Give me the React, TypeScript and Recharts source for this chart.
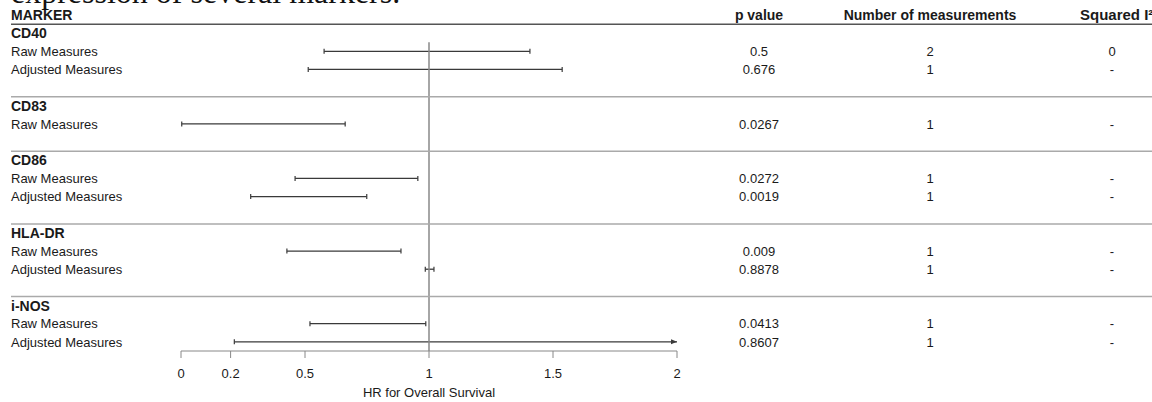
import React from 'react';
import { ComposedChart, Bar, XAxis, YAxis, ReferenceLine } from 'recharts';

const markers = ['CD40', 'CD83', 'CD86', 'HLA-DR', 'i-NOS'];

// one entry per measurement row
const measureMarker = ['CD40', 'CD40', 'CD83', 'CD86', 'CD86', 'HLA-DR', 'HLA-DR', 'i-NOS', 'i-NOS'];
const measureKind = [
  'Raw Measures', 'Adjusted Measures', 'Raw Measures', 'Raw Measures', 'Adjusted Measures',
  'Raw Measures', 'Adjusted Measures', 'Raw Measures', 'Adjusted Measures',
];
const ciLow = [0.577, 0.513, 0.003, 0.46, 0.281, 0.427, 0.985, 0.52, 0.215];
const ciHigh = [1.407, 1.537, 0.662, 0.955, 0.749, 0.887, 1.02, 0.987, 2];
const ciCut = [false, false, false, false, false, false, false, false, true]; // upper limit runs off the axis
const pValues = ['0.5', '0.676', '0.0267', '0.0272', '0.0019', '0.009', '0.8878', '0.0413', '0.8607'];
const nMeasures = ['2', '1', '1', '1', '1', '1', '1', '1', '1'];
const squaredI = ['0', '-', '-', '-', '-', '-', '-', '-', '-'];

const columnHeaders = ['MARKER', 'p value', 'Number of measurements', 'Squared I²'];
const xTicks = [0, 0.2, 0.5, 1, 1.5, 2];
const xTitle = 'HR for Overall Survival';
const caption = 'expression of several markers.';

type Row = {
  id: string;
  label: string;
  kind: 'head' | 'marker' | 'measure' | 'gap';
  first?: boolean;
  ci?: [number, number];
  cut?: boolean;
  p?: string;
  n?: string;
  i2?: string;
};

const rows: Row[] = [{ id: 'head', label: columnHeaders[0], kind: 'head' }];
markers.forEach((m, mi) => {
  rows.push({ id: m, label: m, kind: 'marker', first: mi === 0 });
  measureMarker.forEach((mm, i) => {
    if (mm !== m) return;
    rows.push({
      id: `${m}-${i}`,
      label: measureKind[i],
      kind: 'measure',
      ci: [ciLow[i], ciHigh[i]],
      cut: ciCut[i],
      p: pValues[i],
      n: nMeasures[i],
      i2: squaredI[i],
    });
  });
  if (mi < markers.length - 1) rows.push({ id: `gap-${mi}`, label: '', kind: 'gap' });
});
const rowById: Record<string, Row> = {};
rows.forEach((r) => (rowById[r.id] = r));

const W = 1152;
const H = 402;
const TOP = 6;
const X_AXIS_H = 51;
const ROW = (H - TOP - X_AXIS_H) / rows.length;

const LEFT_X = 11;
const P_X = 759;
const N_X = 930;
const I2_X = 1112;
const FONT = '"Liberation Sans", Arial, Helvetica, sans-serif';

const RowTick = (props: any) => {
  const { y, payload } = props;
  const row = rowById[payload.value];
  if (!row) return null;
  const txt = { fontFamily: FONT, fill: '#1a1a1a' };
  if (row.kind === 'head') {
    const hd = { ...txt, fontSize: 14, fontWeight: 700 };
    return (
      <g>
        <text x={LEFT_X} y={y} dy="0.36em" {...hd}>{row.label}</text>
        <text x={P_X} y={y} dy="0.36em" textAnchor="middle" {...hd}>{columnHeaders[1]}</text>
        <text x={N_X} y={y} dy="0.36em" textAnchor="middle" {...hd}>{columnHeaders[2]}</text>
        <text x={1080} y={y} dy="0.36em" {...hd} fontSize={15}>{columnHeaders[3]}</text>
        <line x1={LEFT_X} x2={W} y1={y + ROW / 2} y2={y + ROW / 2} stroke="#555" strokeWidth={1.5} />
      </g>
    );
  }
  if (row.kind === 'marker') {
    return (
      <g>
        {!row.first && (
          <line x1={LEFT_X} x2={W} y1={y - ROW / 2} y2={y - ROW / 2} stroke="#aaa" strokeWidth={1.5} />
        )}
        <text x={LEFT_X} y={y} dy="0.36em" {...txt} fontSize={14} fontWeight={700}>{row.label}</text>
      </g>
    );
  }
  if (row.kind === 'measure') {
    return (
      <g fontSize={13}>
        <text x={LEFT_X} y={y} dy="0.36em" {...txt}>{row.label}</text>
        <text x={P_X} y={y} dy="0.36em" textAnchor="middle" {...txt}>{row.p}</text>
        <text x={N_X} y={y} dy="0.36em" textAnchor="middle" {...txt}>{row.n}</text>
        <text x={I2_X} y={y} dy="0.36em" textAnchor="middle" {...txt}>{row.i2}</text>
      </g>
    );
  }
  return null;
};

const CiShape = (props: any) => {
  const { x, y, width, height, payload } = props;
  if (!payload || !payload.ci) return null;
  const cy = y + height / 2;
  const x1 = x;
  const x2 = x + width;
  const col = '#3a3a3a';
  return (
    <g>
      <line x1={x1} x2={x2} y1={cy} y2={cy} stroke={col} strokeWidth={1.3} />
      <line x1={x1} x2={x1} y1={cy - 2.5} y2={cy + 2.5} stroke={col} strokeWidth={1.2} />
      {payload.cut ? (
        <path d={`M${x2} ${cy} L${x2 - 6} ${cy - 2.5} L${x2 - 6} ${cy + 2.5} Z`} fill={col} />
      ) : (
        <line x1={x2} x2={x2} y1={cy - 2.5} y2={cy + 2.5} stroke={col} strokeWidth={1.2} />
      )}
    </g>
  );
};

const OneLine = (props: any) => {
  const { x1, x2, y1, y2 } = props;
  const top = Math.min(y1, y2) + ROW * 2;
  const bottom = Math.max(y1, y2);
  return <line x1={x1} x2={x2} y1={top} y2={bottom} stroke="#888" strokeWidth={1.5} />;
};

export default function App() {
  return (
    <div style={{ position: 'absolute', left: 0, top: 0, width: W, height: H, overflow: 'hidden', background: '#fff' }}>
      <div
        style={{
          position: 'absolute',
          left: LEFT_X,
          top: -24,
          fontFamily: '"Liberation Serif", "Times New Roman", serif',
          fontSize: 32,
          lineHeight: '32px',
          whiteSpace: 'nowrap',
          color: '#111',
        }}
      >
        {caption}
      </div>
      <ComposedChart
        width={W}
        height={H}
        data={rows}
        layout="vertical"
        margin={{ top: TOP, right: W - 677, bottom: 0, left: 0 }}
        style={{ position: 'absolute', left: 0, top: 0 }}
      >
        <XAxis
          type="number"
          domain={[0, 2]}
          ticks={xTicks}
          allowDataOverflow
          height={X_AXIS_H}
          tickSize={7}
          tickMargin={11}
          stroke="#888"
          tick={{ fill: '#1a1a1a', fontSize: 13, fontFamily: FONT }}
          label={{ value: xTitle, position: 'insideBottom', offset: 5, fill: '#1a1a1a', fontSize: 13, fontFamily: FONT }}
        />
        <YAxis
          type="category"
          dataKey="id"
          width={181}
          axisLine={false}
          tickLine={false}
          interval={0}
          tick={<RowTick />}
        />
        <ReferenceLine x={1} stroke="#888" shape={<OneLine />} />
        <Bar dataKey="ci" barSize={6} shape={<CiShape />} isAnimationActive={false} />
      </ComposedChart>
    </div>
  );
}
